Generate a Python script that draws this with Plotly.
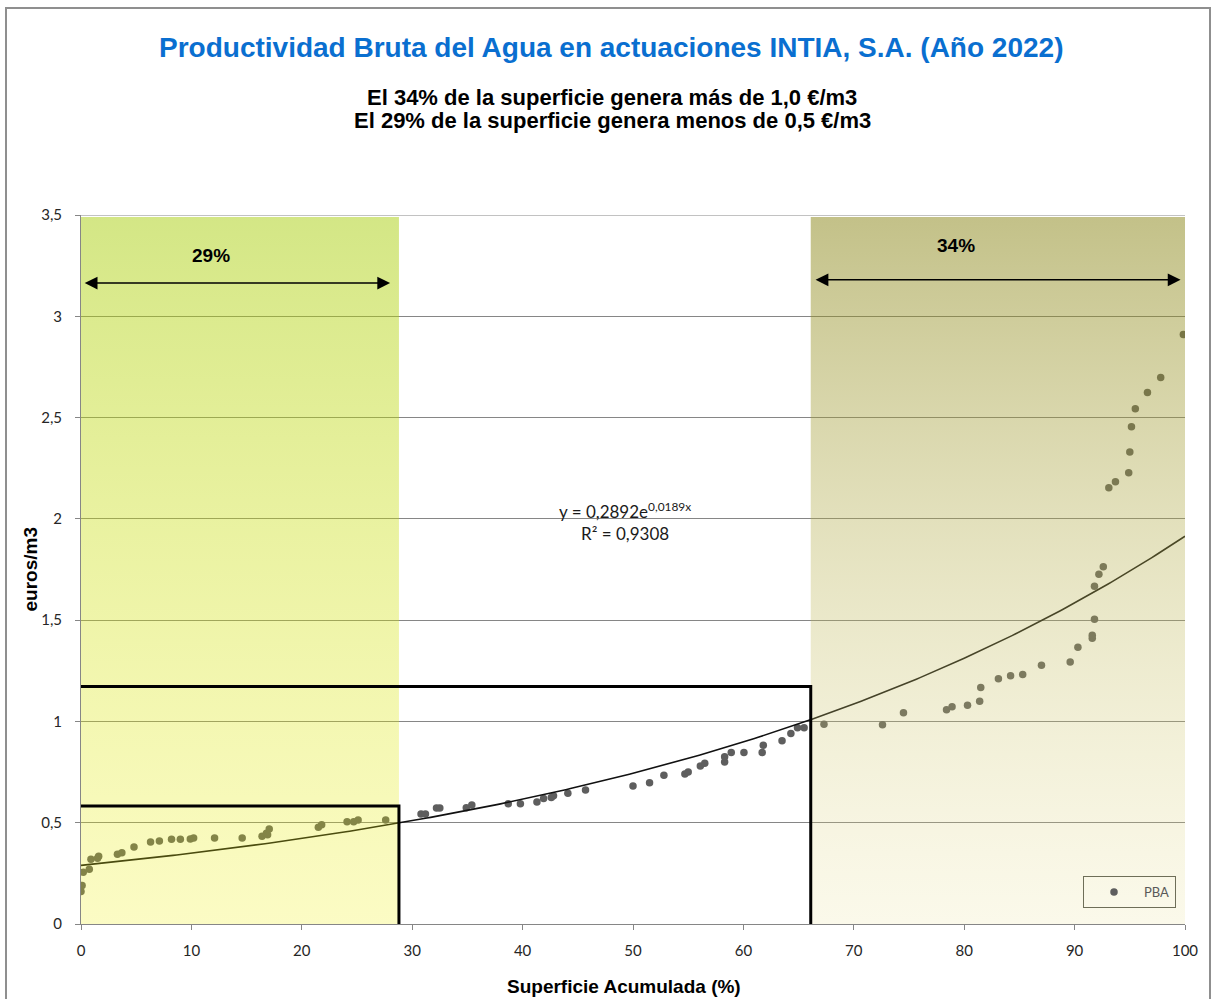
import numpy as np
import plotly.graph_objects as go

# ---------------- data ----------------
superficie = [0.0, 0.1, 0.2, 0.75, 0.9, 1.5, 1.6, 3.3, 3.7, 4.8, 6.3, 7.1, 8.2, 9.0, 9.9, 10.2,
              12.1, 14.6, 16.4, 16.9, 16.8, 17.05, 21.5, 21.8, 24.1, 24.7, 25.1, 27.6,
              30.8, 31.2, 32.2, 32.5, 34.9, 35.4, 38.7, 39.8, 41.3, 41.9, 42.6, 42.8, 44.1, 45.7,
              50.0, 51.5, 52.8, 54.7, 55.0, 56.1, 56.5, 58.3, 58.3, 58.9, 60.05, 61.7, 61.8, 63.5,
              64.3, 64.9, 65.5,
              67.3, 72.6, 74.5, 78.4, 78.9, 80.3, 81.4, 81.5, 83.1, 84.2, 85.3, 87.0, 89.6, 90.3,
              91.6, 91.6, 91.8, 91.8, 92.2, 92.6, 93.1, 93.7, 94.9, 95.0, 95.15, 95.5, 96.6, 97.8, 99.85]
pba = [0.16, 0.19, 0.255, 0.27, 0.32, 0.325, 0.335, 0.344, 0.352, 0.38, 0.405, 0.41, 0.418, 0.418,
       0.42, 0.425, 0.425, 0.425, 0.433, 0.44, 0.448, 0.469, 0.477, 0.49, 0.505, 0.505, 0.513, 0.513,
       0.543, 0.543, 0.573, 0.573, 0.574, 0.587, 0.594, 0.594, 0.602, 0.62, 0.625, 0.633, 0.645, 0.661,
       0.681, 0.697, 0.734, 0.74, 0.75, 0.78, 0.793, 0.80, 0.826, 0.846, 0.846, 0.846, 0.882, 0.905,
       0.941, 0.969, 0.969,
       0.986, 0.984, 1.043, 1.058, 1.073, 1.08, 1.10, 1.168, 1.211, 1.226, 1.232, 1.277, 1.293, 1.366,
       1.41, 1.426, 1.505, 1.667, 1.727, 1.764, 2.154, 2.183, 2.228, 2.33, 2.455, 2.543, 2.624, 2.698, 2.91]

trend_a = 0.2892
trend_b = 0.0189
trend_label = "y = 0,2892e<sup>0,0189x</sup><br>R² = 0,9308"

umbral_x = [28.8, 66.1]        # x where trend reaches 0,5 and 1,0 €/m3
caja_y = [0.582, 1.172]        # heights of the black bracket lines
zona_baja = [0.0, 28.8]
zona_alta = [66.1, 100.0]
pct_labels = ["29%", "34%"]

title = "Productividad Bruta del Agua en actuaciones INTIA, S.A. (Año 2022)"
subtitle_lines = ["El 34% de la superficie genera más de 1,0 €/m3",
                  "El 29% de la superficie genera menos de 0,5 €/m3"]

# ---------------- figure ----------------
W, H = 1212, 999
L, R, T, B = 81, 27, 215, 75
pw, ph = W - L - R, H - T - B

def px_x(p):
    return (p - L) / pw

def px_y(p):
    return (H - B - p) / ph

fig = go.Figure()

fig.add_trace(go.Scatter(
    x=superficie, y=pba, mode="markers", name="PBA",
    marker=dict(color="#5e5e5e", size=7.5, line=dict(width=0)),
))

xt = np.linspace(0, 100, 301)
fig.add_trace(go.Scatter(
    x=xt, y=trend_a * np.exp(trend_b * xt), mode="lines",
    line=dict(color="#111111", width=1.6), showlegend=False, hoverinfo="skip",
))

ytop = 3.49
# translucent gradient overlays
fig.add_trace(go.Scatter(
    x=[zona_baja[0], zona_baja[1], zona_baja[1], zona_baja[0], zona_baja[0]],
    y=[0, 0, ytop, ytop, 0], mode="lines", line=dict(width=0), fill="toself",
    fillgradient=dict(type="vertical", start=0, stop=ytop,
                      colorscale=[[0, "rgba(240,240,10,0.24)"], [1, "rgba(168,206,12,0.5)"]]),
    showlegend=False, hoverinfo="skip",
))
fig.add_trace(go.Scatter(
    x=[zona_alta[0], zona_alta[1], zona_alta[1], zona_alta[0], zona_alta[0]],
    y=[0, 0, ytop, ytop, 0], mode="lines", line=dict(width=0), fill="toself",
    fillgradient=dict(type="vertical", start=0, stop=ytop,
                      colorscale=[[0, "rgba(232,222,140,0.18)"], [1, "rgba(135,131,18,0.5)"]]),
    showlegend=False, hoverinfo="skip",
))

# top gridline at 3,5
fig.add_shape(type="line", xref="x", yref="y", x0=0, x1=100, y0=3.5, y1=3.5,
              line=dict(color="#868686", width=1), layer="below")

# black bracket lines
for ux, cy in zip(umbral_x, caja_y):
    fig.add_shape(type="path", xref="x", yref="y",
                  path=f"M 0,{cy} L {ux},{cy} L {ux},0",
                  line=dict(color="black", width=3), layer="above")

# double arrows
arrow_y = [3.164, 3.18]
arrow_x = [(0.2, 28.0), (66.4, 99.6)]
for (x0, x1), ay in zip(arrow_x, arrow_y):
    fig.add_annotation(x=x1, y=ay, ax=x0, ay=ay, xref="x", yref="y", axref="x", ayref="y",
                       text="", showarrow=True, arrowhead=2, startarrowhead=2,
                       arrowside="end+start", arrowsize=1.6, arrowwidth=1.6,
                       startarrowsize=1.6, arrowcolor="black")

for txt, xx, yy in zip(pct_labels, [11.8, 79.3], [3.30, 3.35]):
    fig.add_annotation(x=xx, y=yy, xref="x", yref="y", text=f"<b>{txt}</b>", showarrow=False,
                       xanchor="center", yanchor="middle",
                       font=dict(family="Liberation Sans", size=19, color="black"))

fig.add_annotation(x=49.3, y=1.985, xref="x", yref="y", text=trend_label, showarrow=False,
                   xanchor="center", yanchor="middle",
                   font=dict(family="Lato", size=17, color="#1a1a1a"), align="center")

# titles
fig.add_annotation(x=px_x(611), y=px_y(48), xref="paper", yref="paper",
                   xanchor="center", yanchor="middle",
                   text=f"<b>{title}</b>", showarrow=False,
                   font=dict(family="Liberation Sans", size=28, color="#0a6fd0"))
for line, py in zip(subtitle_lines, [97, 121]):
    fig.add_annotation(x=px_x(612), y=px_y(py), xref="paper", yref="paper",
                       xanchor="center", yanchor="middle",
                       text=f"<b>{line}</b>", showarrow=False,
                       font=dict(family="Liberation Sans", size=22, color="black"))
fig.add_annotation(x=px_x(30), y=0.5, xref="paper", yref="paper", textangle=-90,
                   xanchor="center", yanchor="middle",
                   text="<b>euros/m3</b>", showarrow=False,
                   font=dict(family="Liberation Sans", size=19, color="black"))
fig.add_annotation(x=px_x(624), y=px_y(986), xref="paper", yref="paper",
                   xanchor="center", yanchor="middle",
                   text="<b>Superficie Acumulada (%)</b>", showarrow=False,
                   font=dict(family="Liberation Sans", size=19, color="black"))

# outer frame
fig.add_shape(type="rect", xref="paper", yref="paper",
              x0=px_x(6), x1=px_x(1210), y0=px_y(1015), y1=px_y(8),
              line=dict(color="#8f8f8f", width=2), layer="above")

fig.update_layout(
    width=W, height=H, margin=dict(l=L, r=R, t=T, b=B),
    paper_bgcolor="white", plot_bgcolor="white",
    separators=",.",
    showlegend=True,
    legend=dict(x=px_x(1083), y=px_y(876), xanchor="left", yanchor="top",
                bgcolor="rgba(0,0,0,0)", bordercolor="#6e6e58", borderwidth=1,
                font=dict(family="Lato", size=13, color="#595959"),
                itemwidth=50, tracegroupgap=0),
    font=dict(family="Lato", size=15, color="#262626"),
)
fig.update_xaxes(range=[0, 100], dtick=10, tick0=0, showgrid=False, zeroline=False,
                 showline=True, linecolor="#868686", linewidth=1,
                 ticks="outside", ticklen=5, tickcolor="#868686",
                 ticklabelstandoff=8, layer="below traces",
                 tickfont=dict(family="Lato", size=15, color="#262626"))
fig.update_yaxes(range=[0, 3.5], dtick=0.5, tick0=0, showgrid=True, gridcolor="#868686",
                 gridwidth=1, zeroline=False,
                 showline=True, linecolor="#868686", linewidth=1,
                 ticks="outside", ticklen=5, tickcolor="#868686",
                 ticklabelstandoff=10, layer="below traces",
                 tickfont=dict(family="Lato", size=15, color="#262626"))

fig.write_html("out.html", config={"displayModeBar": False},
               post_script="document.body.style.margin='0px';")
